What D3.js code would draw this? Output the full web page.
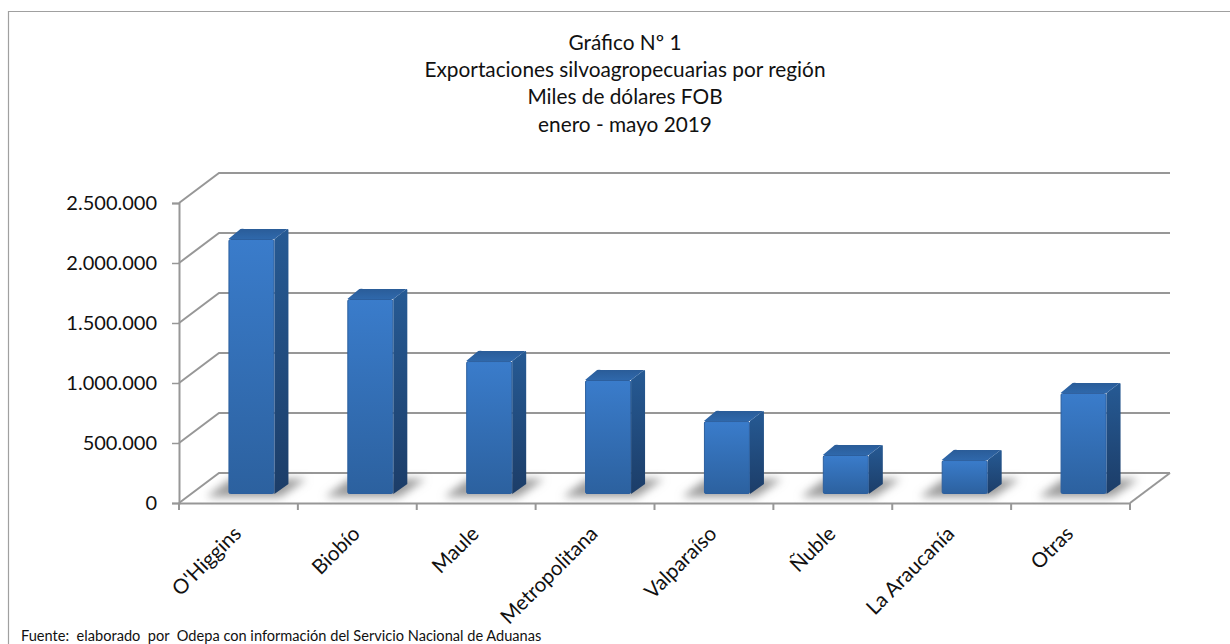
<!DOCTYPE html>
<html>
<head>
<meta charset="utf-8">
<script src="https://cdn.jsdelivr.net/npm/d3@7"></script>
<style>
body { margin: 0; background: #fff; }
text { font-family: Lato, "Open Sans", sans-serif; fill: #111; }
</style>
</head>
<body>
<div id="chart"></div>
<script>
var regiones = ["O'Higgins", "Biobío", "Maule", "Metropolitana", "Valparaíso", "Ñuble", "La Araucanía", "Otras"];
var valores = [2125000, 1625000, 1108000, 950000, 608000, 325000, 283000, 842000];
var yTicks = [0, 500000, 1000000, 1500000, 2000000, 2500000];
var yTickLabels = ["0", "500.000", "1.000.000", "1.500.000", "2.000.000", "2.500.000"];
var titulo = ["Gráfico Nº 1", "Exportaciones silvoagropecuarias por región", "Miles de dólares FOB", "enero - mayo 2019"];
var fuente = "Fuente:  elaborado  por  Odepa con información del Servicio Nacional de Aduanas";

var width = 1230, height = 644;
var gridColor = "#979797";

var svg = d3.select("#chart").append("svg")
    .attr("width", width)
    .attr("height", height)
    .style("display", "block");

var defs = svg.append("defs");

function addGradient(id, horizontal, stops) {
    var g = defs.append("linearGradient").attr("id", id)
        .attr("x1", 0).attr("y1", 0)
        .attr("x2", horizontal ? 1 : 0).attr("y2", horizontal ? 0 : 1);
    stops.forEach(function (s) {
        g.append("stop").attr("offset", s[0]).attr("stop-color", s[1]);
    });
}
addGradient("frente", false, [[0, "#3a7ccb"], [1, "#2c619f"]]);
addGradient("lado", false, [[0, "#265a94"], [1, "#1c3d68"]]);
addGradient("tapa", false, [[0, "#2a5c98"], [1, "#2f68ab"]]);

defs.append("filter").attr("id", "blur")
    .attr("x", "-30%").attr("y", "-60%").attr("width", "160%").attr("height", "220%")
    .append("feGaussianBlur").attr("stdDeviation", 4);

// marco (arriba e izquierda, el resto queda fuera de la imagen)
svg.append("path")
    .attr("d", "M8.5,644V11.5H1230")
    .attr("fill", "none")
    .attr("stroke", "#a0a0a0")
    .attr("stroke-width", 1.2);

// escalas
var x = d3.scaleBand().domain(regiones).range([179, 1130]);
var y = d3.scaleLinear().domain([0, 2500000]).range([503, 203]);

var backDx = 40, backDy = -30;   // fondo del grafico 3d
var barDx = 14, barDy = -10;     // profundidad de cada barra
var barW = 46;
var barOffX = 13, barOffY = -9;  // la barra va un poco adentro del piso

// pared y lineas de grilla
yTicks.forEach(function (t) {
    var yy = y(t);
    svg.append("polyline")
        .attr("points", [[x.range()[0], yy], [x.range()[0] + backDx, yy + backDy], [x.range()[1] + backDx, yy + backDy]].join(" "))
        .attr("fill", "none")
        .attr("stroke", gridColor)
        .attr("stroke-width", 2);
});

// piso
svg.append("path")
    .attr("d", "M" + [x.range()[1] + backDx, y(0) + backDy] + "L" + [x.range()[1], y(0)])
    .attr("stroke", gridColor)
    .attr("stroke-width", 2);

// eje y
var yAxis = svg.append("g")
    .attr("transform", "translate(" + x.range()[0] + ",0)")
    .call(d3.axisLeft(y).tickValues(yTicks).tickSize(7).tickFormat(function (d, i) { return yTickLabels[i]; }));
yAxis.selectAll("text").attr("font-size", 20).attr("x", -22);

// eje x
var xAxis = svg.append("g")
    .attr("transform", "translate(0," + y(0) + ")")
    .call(d3.axisBottom(x).tickSize(0).tickFormat(""));
xAxis.selectAll(".tick").remove();
xAxis.selectAll(".xt").data(regiones.concat(["fin"])).enter().append("line")
    .attr("x1", function (d, i) { return i < regiones.length ? x(d) : x.range()[1]; })
    .attr("x2", function (d, i) { return i < regiones.length ? x(d) : x.range()[1]; })
    .attr("y1", 0).attr("y2", 7);
svg.selectAll(".domain, g line").attr("stroke", gridColor).attr("stroke-width", 2);
yAxis.selectAll("line").attr("stroke-width", 1.5);

// sombras en el piso
svg.selectAll(".sombra").data(regiones).enter().append("polygon")
    .attr("class", "sombra")
    .attr("filter", "url(#blur)")
    .attr("fill", "#9c9c9c")
    .attr("points", function (d) {
        var bx = x(d) + (x.bandwidth() - barW) / 2 + barOffX;
        var by = y(0) + barOffY;
        return [[bx - 22, by + 3], [bx + barW + 6, by + 3], [bx + barW + 32, by - 15], [bx + 2, by - 15]].join(" ");
    });

// barras
var bars = svg.selectAll(".barra").data(valores).enter().append("g").attr("class", "barra")
    .attr("transform", function (d, i) {
        return "translate(" + (x(regiones[i]) + (x.bandwidth() - barW) / 2 + barOffX) + "," + barOffY + ")";
    });

bars.append("path")
    .attr("fill", "url(#lado)")
    .attr("d", function (d) {
        return "M" + [barW, y(d)] + "L" + [barW + barDx - 1, y(d) + barDy] + "Q" + [barW + barDx, y(d) + barDy] + " " + [barW + barDx, y(d) + barDy + 1]
            + "L" + [barW + barDx, y(0) + barDy] + "L" + [barW, y(0)] + "Z";
    });
bars.append("path")
    .attr("fill", "url(#tapa)")
    .attr("d", function (d) {
        return "M" + [0, y(d)] + "L" + [barDx - 2, y(d) + barDy] + "Q" + [barDx, y(d) + barDy - 0.5] + " " + [barDx + 2, y(d) + barDy]
            + "L" + [barW + barDx - 1, y(d) + barDy] + "L" + [barW, y(d)] + "Z";
    });
bars.append("rect")
    .attr("x", 0.5)
    .attr("y", function (d) { return y(d) + 0.5; })
    .attr("width", barW - 1)
    .attr("height", function (d) { return y(0) - y(d) - 1; })
    .attr("rx", 1.5)
    .attr("fill", "url(#frente)")
    .attr("stroke", "#2c5f9e")
    .attr("stroke-width", 1);

// etiquetas de categoria
svg.selectAll(".cat").data(regiones).enter().append("text")
    .attr("class", "cat")
    .attr("text-anchor", "end")
    .attr("font-size", 20.5)
    .attr("transform", function (d) {
        return "translate(" + (x(d) + x.bandwidth() / 2 + 4) + "," + (y(0) + 32) + ") rotate(-45)";
    })
    .text(function (d) { return d; });

// titulo
svg.selectAll(".tit").data(titulo).enter().append("text")
    .attr("class", "tit")
    .attr("x", 625)
    .attr("y", function (d, i) { return 50 + i * 27.2; })
    .attr("text-anchor", "middle")
    .attr("font-size", 20.8)
    .text(function (d) { return d; });

// fuente
svg.append("text")
    .attr("x", 21).attr("y", 641)
    .attr("font-size", 14.6)
    .style("white-space", "pre")
    .text(fuente);
</script>
</body>
</html>
